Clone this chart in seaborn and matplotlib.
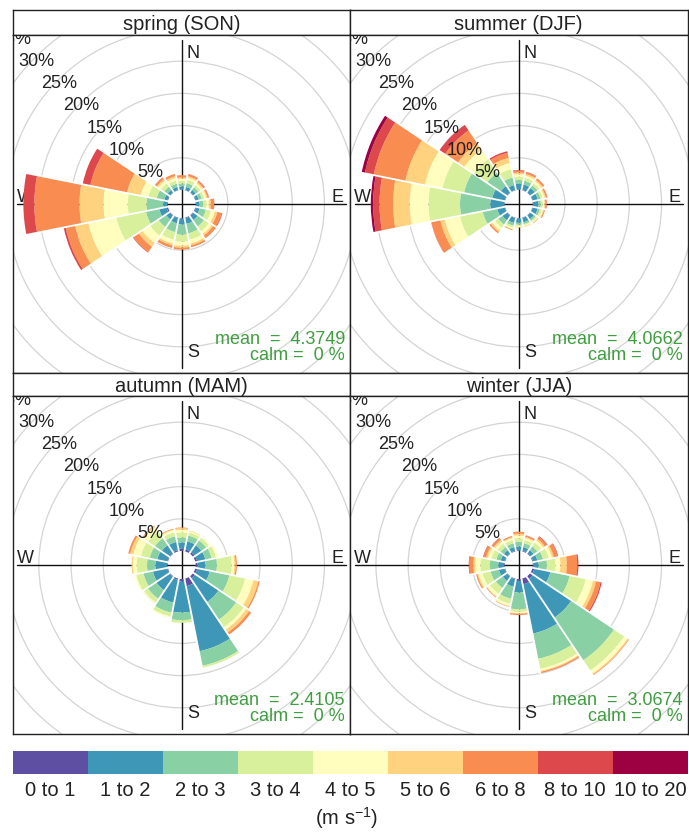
import numpy as np
import matplotlib
matplotlib.use("Agg")
import matplotlib.pyplot as plt
from matplotlib.patches import Wedge, Circle
import seaborn as sns

# ---------------- data ----------------
directions = ["N", "NNE", "NE", "ENE", "E", "ESE", "SE", "SSE",
              "S", "SSW", "SW", "WSW", "W", "WNW", "NW", "NNW"]
bearings = [0, 22.5, 45, 67.5, 90, 112.5, 135, 157.5,
            180, 202.5, 225, 247.5, 270, 292.5, 315, 337.5]
speed_bins = ["0 to 1", "1 to 2", "2 to 3", "3 to 4", "4 to 5",
              "5 to 6", "6 to 8", "8 to 10", "10 to 20"]
season_titles = ["spring (SON)", "summer (DJF)", "autumn (MAM)", "winter (JJA)"]
mean_speed = ["4.3749", "4.0662", "2.4105", "3.0674"]
calm_pct = [0, 0, 0, 0]
ring_levels = [5, 10, 15, 20, 25, 30, 35, 40]

# frequency (%) per direction (rows, N clockwise) and speed bin (columns)
spring = [
    [0.05, 0.5, 0.45, 0.4, 0.35, 0.2, 0.35, 0.0, 0],
    [0.05, 0.5, 0.6, 0.5, 0.35, 0.25, 0.3, 0.05, 0],
    [0.05, 0.5, 0.5, 0.4, 0.3, 0.25, 0.25, 0.05, 0],
    [0.05, 0.5, 0.5, 0.4, 0.3, 0.2, 0.2, 0.05, 0],
    [0.05, 0.5, 0.6, 0.5, 0.4, 0.3, 0.5, 0.05, 0],
    [0.1, 0.6, 1.0, 0.8, 0.6, 0.4, 0.7, 0.1, 0],
    [0.1, 0.8, 1.2, 0.9, 0.5, 0.3, 0.5, 0.0, 0],
    [0.1, 0.9, 1.5, 1.0, 0.6, 0.3, 0.3, 0.0, 0],
    [0.1, 0.9, 1.6, 1.1, 0.6, 0.3, 0.3, 0.0, 0],
    [0.1, 0.8, 1.4, 1.2, 0.6, 0.3, 0.4, 0.0, 0],
    [0.1, 0.7, 1.4, 1.6, 1.4, 0.7, 1.0, 0.1, 0],
    [0.2, 1.2, 2.1, 4.7, 4.4, 2.1, 1.5, 0.3, 0],
    [0.1, 0.6, 2.6, 2.9, 3.8, 3.7, 7.0, 1.7, 0],
    [0.1, 0.5, 1.2, 1.3, 1.2, 2.2, 5.8, 1.2, 0],
    [0.05, 0.5, 0.6, 0.6, 0.5, 0.3, 0.3, 0.05, 0],
    [0.05, 0.5, 0.5, 0.5, 0.4, 0.3, 0.35, 0.0, 0],
]
summer = [
    [0.05, 0.9, 0.6, 0.5, 0.4, 0.25, 0.3, 0.1, 0],
    [0.05, 0.9, 0.6, 0.45, 0.35, 0.25, 0.3, 0.05, 0],
    [0.05, 0.85, 0.5, 0.4, 0.35, 0.25, 0.25, 0.05, 0],
    [0.05, 0.8, 0.45, 0.35, 0.3, 0.2, 0.2, 0.05, 0],
    [0.05, 0.8, 0.4, 0.3, 0.25, 0.15, 0.2, 0.05, 0],
    [0.05, 0.8, 0.35, 0.3, 0.2, 0.15, 0.15, 0.0, 0],
    [0.05, 0.7, 0.3, 0.25, 0.15, 0.1, 0.05, 0.0, 0],
    [0.05, 0.7, 0.3, 0.2, 0.15, 0.1, 0.0, 0.0, 0],
    [0.05, 0.7, 0.3, 0.2, 0.15, 0.1, 0.0, 0.0, 0],
    [0.05, 0.8, 0.45, 0.3, 0.2, 0.1, 0.1, 0.0, 0],
    [0.05, 0.9, 0.8, 0.6, 0.5, 0.3, 0.25, 0.0, 0],
    [0.05, 1.2, 2.3, 3.6, 2.4, 0.7, 1.4, 0.05, 0],
    [0.05, 2.2, 4.7, 4.9, 2.9, 2.6, 2.1, 1.0, 0.35],
    [0.05, 2.0, 4.45, 3.4, 2.8, 3.1, 5.0, 1.4, 0.5],
    [0.05, 1.2, 2.5, 2.5, 1.8, 1.2, 2.4, 1.0, 0.05],
    [0.05, 0.8, 1.2, 1.3, 1.0, 0.8, 0.8, 0.25, 0],
]
autumn = [
    [0.35, 0.95, 0.8, 0.75, 0.45, 0.25, 0.1, 0, 0],
    [0.3, 1.3, 0.9, 0.5, 0.2, 0.1, 0, 0, 0],
    [0.3, 1.3, 0.9, 0.5, 0.2, 0, 0, 0, 0],
    [0.3, 1.3, 1.0, 0.7, 0.3, 0, 0, 0, 0],
    [0.3, 1.2, 1.8, 2.3, 0.4, 0.2, 0.2, 0, 0],
    [0.3, 2.0, 3.1, 2.5, 1.3, 0.8, 0.2, 0, 0],
    [0.4, 4.4, 3.3, 1.4, 0.5, 0.5, 0.4, 0, 0],
    [1.2, 10.3, 2.3, 0.3, 0, 0, 0, 0, 0],
    [0.4, 4.8, 1.2, 0.4, 0, 0, 0, 0, 0],
    [0.2, 3.6, 1.6, 0.6, 0.2, 0, 0, 0, 0],
    [0.1, 2.5, 1.6, 0.7, 0.2, 0, 0, 0, 0],
    [0.1, 2.3, 1.5, 1.1, 0.3, 0, 0, 0, 0],
    [0.1, 1.8, 1.3, 1.6, 0.6, 0.2, 0, 0, 0],
    [0.1, 1.6, 1.2, 1.4, 1.2, 0.5, 0.3, 0, 0],
    [0.1, 1.5, 1.3, 1.3, 0.8, 0.2, 0.1, 0, 0],
    [0.2, 1.3, 0.9, 0.6, 0.4, 0.1, 0.1, 0, 0],
]
winter = [
    [0.1, 0.6, 0.7, 0.6, 0.4, 0.3, 0.3, 0, 0],
    [0.1, 0.6, 0.6, 0.5, 0.3, 0.2, 0.2, 0.05, 0],
    [0.1, 0.6, 0.7, 0.7, 0.4, 0.3, 0.4, 0.1, 0],
    [0.1, 0.7, 0.9, 0.9, 0.5, 0.3, 0.6, 0.1, 0],
    [0.1, 0.8, 1.3, 1.3, 0.8, 1.0, 1.6, 0.2, 0],
    [0.3, 2.55, 3.05, 2.55, 1.15, 0.5, 0.7, 0.2, 0],
    [0.5, 7.2, 8.0, 1.9, 0.6, 0.2, 0.1, 0, 0],
    [0.9, 7.8, 4.0, 1.6, 0.3, 0.15, 0.2, 0, 0],
    [0.3, 1.8, 2.6, 0.4, 0.2, 0.1, 0.2, 0, 0],
    [0.1, 1.2, 1.9, 0.8, 0.35, 0.1, 0.05, 0, 0],
    [0.1, 0.8, 1.3, 1.1, 0.5, 0.1, 0.1, 0, 0],
    [0.1, 0.9, 1.3, 1.3, 0.6, 0.2, 0.2, 0, 0],
    [0.1, 0.9, 1.3, 1.5, 0.8, 0.3, 0.6, 0.1, 0],
    [0.1, 0.6, 0.7, 0.8, 0.5, 0.3, 0.4, 0.1, 0],
    [0.1, 0.6, 0.6, 0.6, 0.4, 0.3, 0.35, 0.05, 0],
    [0.1, 0.6, 0.6, 0.5, 0.3, 0.15, 0.2, 0, 0],
]
season_data = [spring, summer, autumn, winter]

# ---------------- style ----------------
sns.set_theme(style="white")
plt.rcParams["font.family"] = ["Liberation Sans", "DejaVu Sans"]
plt.rcParams["mathtext.fontset"] = "custom"
plt.rcParams["mathtext.rm"] = "Liberation Sans"
plt.rcParams["mathtext.it"] = "Liberation Sans:italic"

cmap = plt.get_cmap("Spectral_r")
palette = sns.color_palette([cmap(v) for v in np.linspace(0, 1, len(speed_bins))])
green = "#3f9e3f"
txt = "#222222"

FW, FH = 689, 833
fig = plt.figure(figsize=(FW / 100, FH / 100), dpi=100)
fig.patch.set_facecolor("white")


def rect(x0, y0, x1, y1):
    return [x0 / FW, 1 - y1 / FH, (x1 - x0) / FW, (y1 - y0) / FH]


cols = [(13.3, 350.0), (350.0, 687.5)]
rows = [((10.0, 35.0), (35.0, 373.0)), ((373.0, 396.0), (396.0, 734.0))]
PX = 6.44          # pixels per percent
HOLE = 14.0 / PX   # inner hole radius (in % units)
HALF = 11.25
DY = 3.0 / PX      # small downward text nudge (units)

for idx, data in enumerate(season_data):
    r_i, c_i = divmod(idx, 2)
    (sy0, sy1), (py0, py1) = rows[r_i]
    x0, x1 = cols[c_i]

    # strip
    sax = fig.add_axes(rect(x0, sy0, x1, sy1))
    sax.set_xticks([]); sax.set_yticks([])
    sax.set_facecolor("white")
    for sp in sax.spines.values():
        sp.set_color("#222222"); sp.set_linewidth(1.0); sp.set_visible(True)
    sax.text(0.5, 0.40, season_titles[idx], ha="center", va="center",
             fontsize=14.5, color=txt, transform=sax.transAxes)

    ax = fig.add_axes(rect(x0, py0, x1, py1))
    ax.set_xticks([]); ax.set_yticks([])
    ax.set_facecolor("white")
    for sp in ax.spines.values():
        sp.set_color("#222222"); sp.set_linewidth(1.0); sp.set_visible(True)
    hw = (x1 - x0) / 2 / PX
    hh = (py1 - py0) / 2 / PX
    ax.set_xlim(-hw, hw); ax.set_ylim(-hh, hh)

    # grid rings
    for lev in ring_levels:
        ax.add_patch(Circle((0, 0), HOLE + lev, fill=False, ec="#d4d4d4", lw=0.9, zorder=1))
    # axis cross
    L = 25.5
    ax.plot([0, 0], [-L, L], color="#111111", lw=1.0, zorder=1.5)
    ax.plot([-L, L], [0, 0], color="#111111", lw=1.0, zorder=1.5)
    ax.text(0.8, 23.9 - DY, "N", ha="left", va="center", fontsize=13, color=txt, zorder=1.6)
    ax.text(0.8, -22.7 - DY * 0.7, "S", ha="left", va="center", fontsize=13, color=txt, zorder=1.6)
    ax.text(25.1, 1.5 - DY, "E", ha="right", va="center", fontsize=13, color=txt, zorder=1.6)
    ax.text(-25.6, 1.5 - DY, "W", ha="left", va="center", fontsize=13, color=txt, zorder=1.6)

    arr = np.array(data, dtype=float)
    totals = arr.sum(axis=1)
    for d, b in enumerate(bearings):
        cum = np.concatenate([[0], np.cumsum(arr[d])])
        t1 = 90 - b - HALF
        t2 = 90 - b + HALF
        for k in range(len(speed_bins)):
            w = cum[k + 1] - cum[k]
            if w <= 0:
                continue
            ax.add_patch(Wedge((0, 0), HOLE + cum[k + 1], t1, t2, width=w,
                               fc=palette[k], ec="none", lw=0, zorder=2))
    # white separators between directions
    n = len(bearings)
    for d in range(n):
        a = np.deg2rad(bearings[d] + HALF)
        rr = HOLE + max(totals[d], totals[(d + 1) % n]) + 0.1
        ax.plot([(HOLE - 0.05) * np.sin(a), rr * np.sin(a)],
                [(HOLE - 0.05) * np.cos(a), rr * np.cos(a)],
                color="white", lw=1.3, solid_capstyle="butt", zorder=2.5)

    # ring labels
    for lev in ring_levels:
        r = HOLE + lev
        shift = (0.2 + 0.6 * lev / 30) * DY * 1.6
        ax.text(-r * np.sin(np.pi / 4) + 0.15, r * np.cos(np.pi / 4) - shift, f"{lev}%",
                ha="center", va="center", fontsize=13, color=txt,
                zorder=4, clip_on=True)

    ax.text(0.985, 0.100, f"mean  =  {mean_speed[idx]}", transform=ax.transAxes,
            ha="right", va="center", fontsize=13, color=green, zorder=5)
    ax.text(0.985, 0.052, f"calm =  {calm_pct[idx]} %", transform=ax.transAxes,
            ha="right", va="center", fontsize=13, color=green, zorder=5)

# ---------------- legend ----------------
lax = fig.add_axes(rect(13.2, 751, 687.6, 774))
sns.barplot(x=list(range(len(speed_bins))), y=[1] * len(speed_bins),
            hue=list(range(len(speed_bins))), palette=list(palette),
            width=1.0, legend=False, ax=lax, linewidth=0, saturation=1)
lax.set_xlim(-0.5, len(speed_bins) - 0.5)
lax.set_ylim(0, 1)
lax.axis("off")
for k, lab in enumerate(speed_bins):
    lax.text(k, -0.72, lab, ha="center", va="center", fontsize=14.5,
             color=txt, clip_on=False)
fig.text(347 / FW, 1 - 818 / FH, r"(m s$^{-1}$)", ha="center", va="center",
         fontsize=14.5, color=txt)

fig.savefig("out.png", dpi=100, facecolor="white")
